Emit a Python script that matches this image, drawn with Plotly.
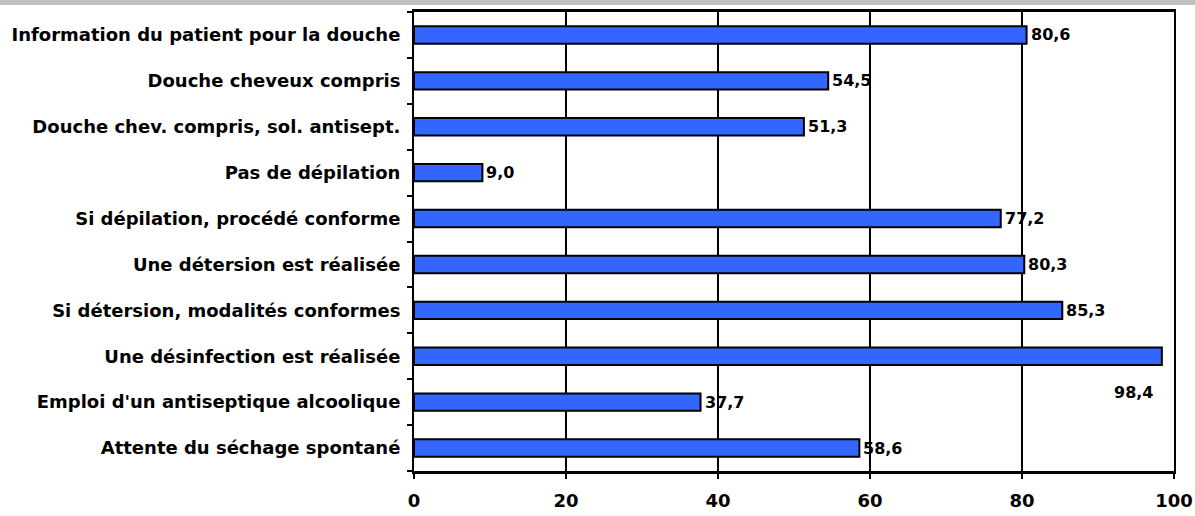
import plotly.graph_objects as go

categories = [
    "Information du patient pour la douche",
    "Douche cheveux compris",
    "Douche chev. compris, sol. antisept.",
    "Pas de dépilation",
    "Si dépilation, procédé conforme",
    "Une détersion est réalisée",
    "Si détersion, modalités conformes",
    "Une désinfection est réalisée",
    "Emploi d'un antiseptique alcoolique",
    "Attente du séchage spontané",
]
values = [80.6, 54.5, 51.3, 9.0, 77.2, 80.3, 85.3, 98.4, 37.7, 58.6]
value_labels = ["80,6", "54,5", "51,3", "9,0", "77,2", "80,3", "85,3", "98,4", "37,7", "58,6"]
x_ticks = [0, 20, 40, 60, 80, 100]

W, H = 1195, 516
ML, MR, MT, MB = 414, 21, 12, 45
font_family = "DejaVu Sans, Verdana, sans-serif"

fig = go.Figure()
fig.add_trace(go.Bar(
    x=values, y=categories, orientation="h",
    marker=dict(color="#3366FF", line=dict(color="#000000", width=2)),
    hoverinfo="skip",
))

annotations = []
for cat, v, lab in zip(categories, values, value_labels):
    if v > 95:
        annotations.append(dict(x=v, y=cat, xref="x", yref="y", text="<b>%s</b>" % lab,
                                showarrow=False, xanchor="right", yanchor="middle",
                                xshift=-7, yshift=-36,
                                font=dict(family=font_family, size=16, color="#000")))
    else:
        annotations.append(dict(x=v, y=cat, xref="x", yref="y", text="<b>%s</b>" % lab,
                                showarrow=False, xanchor="left", yanchor="middle",
                                xshift=2, yshift=0,
                                font=dict(family=font_family, size=16, color="#000")))

plot_h = H - MT - MB
plot_w = W - ML - MR
fig.add_shape(type="rect", xref="paper", yref="paper",
              x0=-ML / plot_w - 0.01, x1=1 + MR / plot_w + 0.01,
              y0=1 + (MT - 5) / plot_h, y1=1 + (MT + 3) / plot_h,
              fillcolor="#C0C0C0", line=dict(width=0), layer="below")

fig.update_layout(
    width=W, height=H,
    margin=dict(l=ML, r=MR, t=MT, b=MB, pad=0, autoexpand=False),
    paper_bgcolor="white", plot_bgcolor="white",
    bargap=0.62,
    showlegend=False,
    annotations=annotations,
    font=dict(family=font_family, color="#000"),
    xaxis=dict(range=[0, 100], tickvals=x_ticks, ticktext=["<b>%d</b>" % t for t in x_ticks],
               automargin=False,
               showgrid=True, gridcolor="#000", gridwidth=2,
               showline=True, linecolor="#000", linewidth=3, mirror=True,
               ticks="outside", ticklen=5, tickwidth=2, tickcolor="#000",
               ticklabelstandoff=6,
               tickfont=dict(size=18, family=font_family), zeroline=False, fixedrange=True),
    yaxis=dict(autorange="reversed", categoryorder="array", categoryarray=categories,
               tickvals=categories, ticktext=["<b>%s</b>" % c for c in categories],
               automargin=False,
               tickson="boundaries", ticks="outside", ticklen=5, tickwidth=2, tickcolor="#000",
               ticklabelstandoff=8,
               showline=True, linecolor="#000", linewidth=2, mirror=True,
               showgrid=False, tickfont=dict(size=18, family=font_family), fixedrange=True),
)

fig.write_html("out.html")
